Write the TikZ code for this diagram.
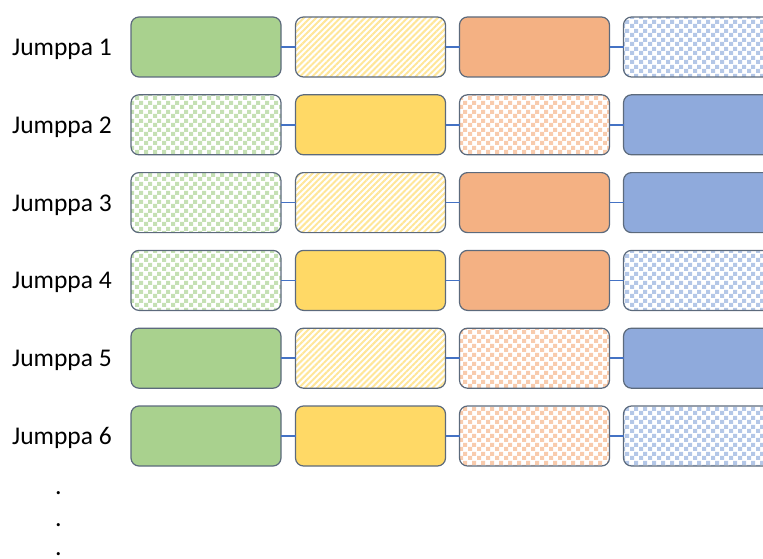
\documentclass[tikz,border=0pt]{standalone}
\usepackage{fontspec}
\setmainfont{Carlito}
\usetikzlibrary{patterns,patterns.meta}
\pgfdeclarepatternformonly{bigcheck}{\pgfpointorigin}{\pgfqpoint{9pt}{9pt}}{\pgfqpoint{9pt}{9pt}}{%
  \pgfpathrectangle{\pgfpointorigin}{\pgfqpoint{4.5pt}{4.5pt}}%
  \pgfpathrectangle{\pgfqpoint{4.5pt}{4.5pt}}{\pgfqpoint{4.5pt}{4.5pt}}%
  \pgfusepath{fill}}
\definecolor{gsol}{HTML}{A9D18E}
\definecolor{gpat}{HTML}{C5E0B4}
\definecolor{ysol}{HTML}{FFD966}
\definecolor{ypat}{HTML}{FFE699}
\definecolor{osol}{HTML}{F4B183}
\definecolor{opat}{HTML}{F8CBAD}
\definecolor{bsol}{HTML}{8FAADC}
\definecolor{bpat}{HTML}{B4C7E7}
\definecolor{edge}{RGB}{92,106,124}
\definecolor{link}{HTML}{4472C4}
\begin{document}
\begin{tikzpicture}[x=1pt,y=-1pt,
  box/.style={draw=edge,line width=1.2pt,rounded corners=8pt,minimum width=150pt,minimum height=60pt,inner sep=0pt,outer sep=0pt},
  gs/.style={fill=gsol}, gc/.style={fill=white,pattern=bigcheck,pattern color=gpat},
  ys/.style={fill=ysol}, yt/.style={fill=white,pattern={Lines[angle=45,distance=4.3pt,line width=2pt]},pattern color=ypat},
  os/.style={fill=osol}, oc/.style={fill=white,pattern=bigcheck,pattern color=opat},
  bs/.style={fill=bsol}, bc/.style={fill=white,pattern=bigcheck,pattern color=bpat},
  conn/.style={draw=link,line width=1.5pt},
  lab/.style={font=\fontsize{25.5}{30}\selectfont,inner sep=0pt,text=black},
  dotlab/.style={font=\fontsize{26}{30}\selectfont,inner sep=0pt,text=black}]
\useasboundingbox (0,0) rectangle (763,559);
\clip (0,0) rectangle (763,559);
\foreach \r/\a/\b/\c/\d in {1/s/t/s/c,2/c/s/c/s,3/c/t/s/s,4/c/s/s/c,5/s/t/c/s,6/s/s/c/c}{
  \pgfmathsetmacro{\yc}{47+77.8*(\r-1)}
  \pgfmathsetmacro{\yb}{\yc+8.5}
  \node[lab,anchor=base west] (l\r) at (12,\yb) {Jumppa \r};
  \node[box,g\a] (b\r a) at (206,\yc) {};
  \node[box,y\b] (b\r b) at (370.5,\yc) {};
  \node[box,o\c] (b\r c) at (534.5,\yc) {};
  \node[box,b\d] (b\r d) at (698.5,\yc) {};
  \draw[conn] (b\r a.east) -- (b\r b.west);
  \draw[conn] (b\r b.east) -- (b\r c.west);
  \draw[conn] (b\r c.east) -- (b\r d.west);
}
\node[dotlab,anchor=base] (d1) at (58.3,494.6) {.};
\node[dotlab,anchor=base] (d2) at (58.3,526.3) {.};
\node[dotlab,anchor=base] (d3) at (58.3,555.8) {.};
\end{tikzpicture}
\end{document}
